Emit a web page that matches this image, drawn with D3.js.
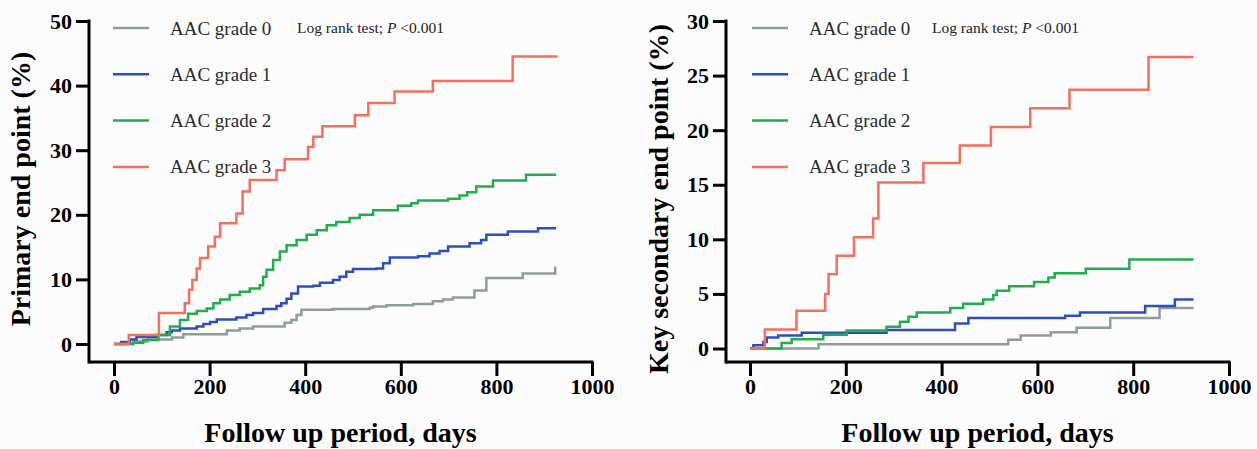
<!DOCTYPE html>
<html lang="en">
<head>
    <meta charset="UTF-8">
    <title>AAC grade cumulative incidence</title>
    <script src="https://cdnjs.cloudflare.com/ajax/libs/d3/7.8.5/d3.min.js"></script>
    <style>
        body {
            margin: 0;
            background-color: #fcfcfd;
        }
        svg text {
            font-family: "Liberation Serif", "Times New Roman", serif;
        }
    </style>
</head>
<body>
    <div id="chart"></div>

    <script>
        // step data: [day, cumulative %]
        const groups = ["AAC grade 0", "AAC grade 1", "AAC grade 2", "AAC grade 3"];
        const dayTicks = [0, 200, 400, 600, 800, 1000];
        const primaryTicks = [0, 10, 20, 30, 40, 50];
        const secondaryTicks = [0, 5, 10, 15, 20, 25, 30];

        const primaryGrade0 = [[0,0],[40,0.4],[70,0.7],[121,1.0],[145,1.5],[236,2.1],[263,2.4],[291,2.7],[357,3.3],[371,3.7],[382,4.5],[392,5.3],[458,5.4],[535,5.6],[542,5.8],[570,6.0],[626,6.2],[667,6.6],[688,6.9],[709,7.2],[754,8.3],[779,10.2],[855,10.9],[923,11.8],[925,11.8]];
        const primaryGrade1 = [[0,0],[15,0.3],[33,0.7],[47,1.1],[89,1.4],[110,1.8],[121,2.1],[138,2.4],[173,2.7],[187,3.1],[201,3.4],[215,3.8],[256,4.1],[277,4.5],[291,4.8],[312,5.4],[340,5.9],[350,6.3],[361,7.0],[371,7.8],[385,8.9],[417,9.0],[431,9.5],[458,9.9],[472,10.4],[486,11.2],[500,11.6],[549,11.7],[563,12.5],[577,13.4],[636,13.6],[660,14.0],[681,14.4],[699,15.1],[744,15.6],[768,16.1],[779,16.9],[824,17.4],[887,17.9],[925,17.9]];
        const primaryGrade2 = [[0,0],[40,0.2],[61,0.6],[93,1.4],[117,2.7],[138,3.7],[155,4.7],[173,5.1],[194,5.5],[208,6.3],[222,6.9],[242,7.6],[263,8.1],[284,8.6],[305,9.1],[312,10.4],[319,11.5],[333,13.0],[347,14.3],[361,15.3],[382,16.1],[403,16.9],[424,17.6],[445,18.4],[465,18.9],[493,19.5],[514,20.0],[542,20.7],[594,21.4],[622,21.8],[636,22.2],[699,22.5],[723,23.0],[739,23.5],[758,24.4],[793,25.3],[862,26.2],[925,26.2]];
        const primaryGrade3 = [[0,0],[31,1.4],[94,4.8],[148,6.3],[157,8.4],[164,9.9],[173,11.7],[180,13.3],[197,15.1],[211,16.6],[222,18.7],[256,20.2],[269,23.6],[284,25.4],[340,26.9],[357,28.6],[406,30.5],[417,32.1],[436,33.7],[504,35.4],[532,37.3],[587,39.1],[667,40.7],[834,44.5],[928,44.5]];

        const secondaryGrade0 = [[0,0],[143,0.4],[539,0.8],[565,1.2],[628,1.5],[682,1.9],[752,2.8],[855,3.7],[926,3.7]];
        const secondaryGrade1 = [[0,0],[7,0.3],[28,0.6],[35,1.0],[59,1.2],[108,1.45],[285,1.7],[428,2.3],[456,2.8],[658,3.0],[689,3.3],[825,3.9],[887,4.5],[926,4.5]];
        const secondaryGrade2 = [[0,0],[66,0.5],[87,0.85],[153,1.25],[202,1.65],[285,2.0],[313,2.45],[331,2.9],[348,3.3],[418,3.7],[445,4.1],[487,4.5],[508,4.9],[515,5.3],[541,5.7],[593,6.1],[623,6.5],[636,6.9],[701,7.3],[792,8.15],[926,8.15]];
        const secondaryGrade3 = [[0,0],[31,1.75],[97,3.45],[157,5.0],[164,6.8],[181,8.5],[217,10.2],[257,11.9],[268,15.2],[362,17.0],[438,18.6],[503,20.3],[585,22.0],[667,23.7],[832,26.7],[926,26.7]];

        const colors = ["#8e9c9c", "#2d4fbd", "#22ad4c", "#f36f5e"];

        const width = 1257;
        const height = 449;

        const panels = [
            {
                title: "Primary end point (%)",
                ticks: primaryTicks,
                series: [primaryGrade0, primaryGrade1, primaryGrade2, primaryGrade3],
                axisX: 89, x0: 114, x1: 592, yZero: 344, yTop: 21, axisY: 362,
                titleX: 20, titleY: 189, legendX: 113, noteX: 297
            },
            {
                title: "Key secondary end point (%)",
                ticks: secondaryTicks,
                series: [secondaryGrade0, secondaryGrade1, secondaryGrade2, secondaryGrade3],
                axisX: 726, x0: 750, x1: 1229, yZero: 348.5, yTop: 21, axisY: 362,
                titleX: 658, titleY: 199, legendX: 752, noteX: 932
            }
        ];

        const svg = d3.select("#chart")
            .append("svg")
            .attr("width", width)
            .attr("height", height);

        panels.forEach(p => {
            const g = svg.append("g");

            const x = d3.scaleLinear()
                .domain([0, 1000])
                .range([p.x0, p.x1]);

            const y = d3.scaleLinear()
                .domain([0, d3.max(p.ticks)])
                .range([p.yZero, p.yTop]);

            // axes (prism style: detached lines meeting at the corner)
            const yAxis = g.append("g")
                .attr("transform", `translate(${p.axisX},0)`)
                .call(d3.axisLeft(y).tickValues(p.ticks).tickFormat(d3.format("d")).tickSize(13).tickPadding(4));

            const xAxis = g.append("g")
                .attr("transform", `translate(0,${p.axisY})`)
                .call(d3.axisBottom(x).tickValues(dayTicks).tickFormat(d3.format("d")).tickSize(14).tickPadding(2));

            [yAxis, xAxis].forEach(a => {
                a.select(".domain").remove();
                a.selectAll(".tick line").attr("stroke", "#000").attr("stroke-width", 3);
                a.selectAll(".tick text")
                    .attr("fill", "#000")
                    .style("font-size", "22px")
                    .style("font-weight", "bold");
            });

            g.append("line")
                .attr("x1", p.axisX).attr("x2", p.axisX)
                .attr("y1", y(d3.max(p.ticks)) - 1.5).attr("y2", p.axisY + 1.5)
                .attr("stroke", "#000").attr("stroke-width", 3);

            g.append("line")
                .attr("x1", p.axisX).attr("x2", x(1000) + 1.5)
                .attr("y1", p.axisY).attr("y2", p.axisY)
                .attr("stroke", "#000").attr("stroke-width", 3);

            g.append("text")
                .attr("transform", `translate(${p.titleX},${p.titleY}) rotate(-90)`)
                .attr("text-anchor", "middle")
                .attr("dy", "0.35em")
                .style("font-size", "28px")
                .style("font-weight", "bold")
                .text(p.title);

            g.append("text")
                .attr("x", (p.axisX + x(1000)) / 2)
                .attr("y", 442)
                .attr("text-anchor", "middle")
                .style("font-size", "28px")
                .style("font-weight", "bold")
                .text("Follow up period, days");

            // curves
            const line = d3.line()
                .x(d => x(d[0]))
                .y(d => y(d[1]))
                .curve(d3.curveStepAfter);

            p.series.forEach((s, i) => {
                g.append("path")
                    .datum(s)
                    .attr("d", line)
                    .attr("fill", "none")
                    .attr("stroke", colors[i])
                    .attr("stroke-width", 2.5);
            });

            // legend
            groups.forEach((name, i) => {
                const ly = 28 + i * 46.3;
                g.append("line")
                    .attr("x1", p.legendX).attr("x2", p.legendX + 36)
                    .attr("y1", ly).attr("y2", ly)
                    .attr("stroke", colors[i])
                    .attr("stroke-width", 2.5);
                g.append("text")
                    .attr("x", p.legendX + 57)
                    .attr("y", ly + 6.5)
                    .attr("fill", "#2b2b2b")
                    .style("font-size", "19px")
                    .text(name);
            });

            const note = g.append("text")
                .attr("x", p.noteX)
                .attr("y", 33)
                .attr("fill", "#222")
                .style("font-size", "15.5px");
            note.append("tspan").text("Log rank test; ");
            note.append("tspan").style("font-style", "italic").text("P");
            note.append("tspan").text(" <0.001");
        });
    </script>
</body>
</html>
